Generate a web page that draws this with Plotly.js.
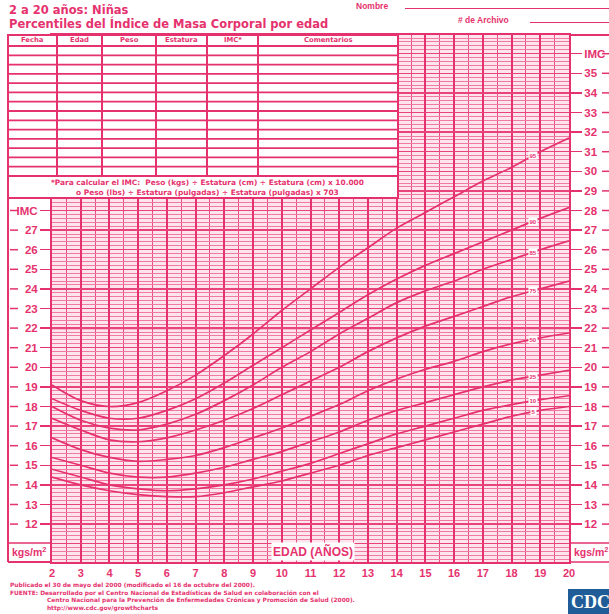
<!DOCTYPE html>
<html><head><meta charset="utf-8">
<script src="https://cdn.plot.ly/plotly-3.0.1.min.js"></script>
<style>html,body{margin:0;padding:0;background:#fff;}#chart{width:609px;height:614px;}</style>
</head><body><div id="chart"></div>
<script>
// ---- data ----
const ages = [2,3,4,5,6,7,8,9,10,11,12,13,14,15,16,17,18,19,20];
const p5  = [14.4,14.0,13.7,13.5,13.4,13.4,13.6,13.9,14.2,14.6,15.0,15.5,15.9,16.3,16.7,17.1,17.5,17.8,18.0];
const p10 = [14.8,14.4,14.0,13.8,13.7,13.8,14.0,14.3,14.7,15.1,15.6,16.1,16.6,17.0,17.4,17.8,18.1,18.35,18.55];
const p25 = [15.4,15.0,14.6,14.4,14.4,14.6,14.9,15.3,15.7,16.2,16.7,17.3,17.8,18.2,18.6,19.0,19.35,19.6,19.85];
const p50 = [16.4,15.8,15.4,15.2,15.3,15.5,15.9,16.4,16.9,17.5,18.1,18.8,19.4,19.9,20.3,20.8,21.2,21.5,21.75];
const p75 = [17.4,16.8,16.3,16.2,16.4,16.8,17.3,17.9,18.6,19.3,20.0,20.8,21.5,22.1,22.6,23.1,23.6,24.0,24.4];
const p85 = [18.0,17.3,16.9,16.8,17.1,17.6,18.3,19.1,20.0,20.8,21.7,22.5,23.3,23.9,24.4,25.0,25.5,26.0,26.45];
const p90 = [18.4,17.8,17.4,17.4,17.8,18.4,19.2,20.1,21.0,21.9,22.8,23.7,24.5,25.2,25.8,26.4,27.0,27.6,28.15];
const p95 = [19.1,18.3,18.0,18.2,18.8,19.6,20.6,21.7,22.9,24.0,25.1,26.1,27.1,27.9,28.7,29.5,30.2,31.0,31.7];
const percentileNames = ['5','10','25','50','75','85','90','95'];
const xTickLabels = ['2','3','4','5','6','7','8','9','10','11','12','13','14','15','16','17','18','19','20'];
const yTicksLeft = [12,13,14,15,16,17,18,19,20,21,22,23,24,25,26,27];
const yTicksRight = [12,13,14,15,16,17,18,19,20,21,22,23,24,25,26,27,28,29,30,31,32,33,34,35];
const axisName = 'IMC';
const unitText = 'kgs/m<sup>2</sup>';
const xTitle = 'EDAD (AÑOS)';
const titleLines = ['2 a 20 años: Niñas','Percentiles del Índice de Masa Corporal por edad'];
const tableHeaders = ['Fecha','Edad','Peso','Estatura','IMC*','Comentarios'];
const footnoteLines = ['*Para calcular el IMC:  Peso (kgs) ÷ Estatura (cm) ÷ Estatura (cm) x 10.000',
                       'o Peso (lbs) ÷ Estatura (pulgadas) ÷ Estatura (pulgadas) x 703'];
const footerLines = ['Publicado el 30 de mayo del 2000 (modificado el 16 de octubre del 2000).',
                     'FUENTE: Desarrollado por el Centro Nacional de Estadísticas de Salud en colaboración con el',
                     'Centro Nacional para la Prevención de Enfermedades Crónicas y Promoción de Salud (2000).',
                     'http://www.cdc.gov/growthcharts'];

// ---- geometry / style ----
const PINK = '#e5326e';
const FONT = 'Liberation Sans, Arial, sans-serif';
const WIDE = 'DejaVu Sans, Verdana, sans-serif';
const L=52, R=569, T=35, B=562;
const PW=R-L, PH=B-T;
const px = x => (x-L)/PW;
const py = y => (B-y)/PH;
const V_BOT = 10.066, V_TOP = 36.954;

const series = [p5,p10,p25,p50,p75,p85,p90,p95];
const traces = series.map(s => ({
  x: ages, y: s, type:'scatter', mode:'lines',
  line:{color:PINK, width:1.7, shape:'spline', smoothing:0.9},
  hoverinfo:'skip', showlegend:false
}));
traces.push({x: yTicksLeft.map(()=>ages[0]), y: yTicksLeft, yaxis:'y2', type:'scatter', mode:'none', showlegend:false, hoverinfo:'skip'});
traces.push({x: yTicksRight.map(()=>ages[0]), y: yTicksRight, yaxis:'y3', type:'scatter', mode:'none', showlegend:false, hoverinfo:'skip'});

function interp(arr, a){
  for(let i=0;i<ages.length-1;i++){
    if(a>=ages[i] && a<=ages[i+1]){
      const t=(a-ages[i])/(ages[i+1]-ages[i]);
      return arr[i]+t*(arr[i+1]-arr[i]);
    }
  }
  return arr[arr.length-1];
}

const shapes = [];
const annotations = [];
function hline(x0,x1,y,w,c){shapes.push({type:'line',xref:'paper',yref:'paper',x0:px(x0),x1:px(x1),y0:py(y),y1:py(y),line:{color:c||PINK,width:w||1.5},layer:'above'});}
function vline(x,y0,y1,w,c){shapes.push({type:'line',xref:'paper',yref:'paper',x0:px(x),x1:px(x),y0:py(y0),y1:py(y1),line:{color:c||PINK,width:w||1.5},layer:'above'});}
function text(x,y,t,size,anchor,fam,extra){annotations.push(Object.assign({xref:'paper',yref:'paper',x:px(x),y:py(y),text:t,showarrow:false,xanchor:anchor||'left',yanchor:'middle',font:{family:fam||FONT,size:size,color:PINK,weight:'bold'}},extra||{}));}

// thick line at 22
shapes.push({type:'line',xref:'paper',yref:'y',x0:0,x1:1,y0:22,y1:22,line:{color:PINK,width:2.4},layer:'below'});

// table
shapes.push({type:'rect',xref:'paper',yref:'paper',x0:px(8),x1:px(398),y0:py(198),y1:py(T),fillcolor:'#fff',line:{color:PINK,width:2},layer:'above'});
const colX=[8,57,102,156,207,258,398];
colX.slice(1,-1).forEach(x=>vline(x,T,176,2));
hline(8,398,46,2);
for(let i=1;i<=14;i++){ hline(8,398,46+i*130/14,1.8); }
tableHeaders.forEach((h,i)=>text((colX[i]+colX[i+1])/2,40.5,h,6.8,'center',WIDE));
text(207,188,footnoteLines.join('<br>'),7.4,'center',WIDE,{align:'center'});

// frames
vline(8,198,B,2);
hline(8,L,B,2); hline(8,L,543,1.5);
hline(R,609,543,1.5); hline(R,609,B,1.5);
hline(R,609,T,2);

// outer tick dashes
yTicksLeft.concat([28]).forEach(v=>shapes.push({type:'line',xref:'paper',yref:'y',x0:px(10),x1:px(18),y0:v,y1:v,line:{color:PINK,width:1.5},layer:'above'}));
yTicksRight.concat([36]).forEach(v=>shapes.push({type:'line',xref:'paper',yref:'y',x0:px(602),x1:px(610),y0:v,y1:v,line:{color:PINK,width:1.5},layer:'above'}));

// percentile labels
const labelAge = 18.75;
series.forEach((s,i)=>annotations.push({xref:'x',yref:'y',x:labelAge,y:interp(s,labelAge),text:percentileNames[i],showarrow:false,
  font:{family:FONT,size:6,color:PINK,weight:'bold'},bgcolor:'#fff',borderpad:0.5,xanchor:'center',yanchor:'middle'}));

// axis title / units
annotations.push({xref:'x',yref:'paper',x:11.1,y:py(551.5),text:xTitle,showarrow:false,bgcolor:'#fff',borderpad:1,
  font:{family:FONT,size:12,color:PINK,weight:'bold'},xanchor:'center',yanchor:'middle'});
text(10,551.5,unitText,10.5,'left');
text(572,551.5,unitText,10.5,'left');

// titles
text(7,10,titleLines[0],11.5,'left',WIDE);
text(7,23,titleLines[1],11.5,'left',WIDE);
text(354,6,'Nombre',8.5,'left');
hline(405,609,8.5,1.2);
text(456,19.5,'# de Archivo',8.5,'left');
hline(530,609,22.5,1.2);

// footer (one block; indented continuation lines)
const indent = '&nbsp;'.repeat(18);
const footerText = footerLines[0] + '<br>' + footerLines[1] + '<br>' + indent + footerLines[2] + '<br>' + indent + footerLines[3];
text(8,613.5,footerText,5.9,'left',WIDE,{align:'left',yanchor:'bottom'});

// logo
shapes.push({type:'rect',xref:'paper',yref:'paper',x0:px(568),x1:px(612),y0:py(614),y1:py(589),fillcolor:'#1f5c98',line:{width:0},layer:'above'});
annotations.push({xref:'paper',yref:'paper',x:px(569),y:py(602),text:'CDC',showarrow:false,xanchor:'left',yanchor:'middle',
  font:{family:'Liberation Serif, serif',size:18,color:'#fff',weight:'bold'}});

const yCommon = {range:[V_BOT,V_TOP], zeroline:false, fixedrange:true};
const tickFont = {family:FONT,size:11.5,color:PINK,weight:'bold'};
const layout = {
  width:609, height:614,
  margin:{l:L, r:609-R, t:T, b:614-B, pad:0},
  paper_bgcolor:'#fff', plot_bgcolor:'#fde4ed',
  showlegend:false,
  xaxis:{range:[2,20], tickmode:'array', tickvals:ages, ticktext:xTickLabels,
    showgrid:true, gridcolor:PINK, gridwidth:2,
    minor:{tickmode:'linear', tick0:0, dtick:0.5, showgrid:true, gridcolor:'#ea4f84', gridwidth:1},
    showline:true, linecolor:PINK, linewidth:2, mirror:true, zeroline:false, ticks:'',
    tickfont:{family:FONT,size:11,color:PINK,weight:'bold'}, fixedrange:true},
  yaxis:Object.assign({}, yCommon, {tickmode:'linear', tick0:0, dtick:1, showgrid:true, gridcolor:'#e8447a', gridwidth:1.5,
    minor:{tickmode:'linear', tick0:0, dtick:0.2, showgrid:true, gridcolor:'#f07aa2', gridwidth:1},
    showticklabels:false, ticks:'', showline:true, linecolor:PINK, linewidth:2, mirror:true}),
  yaxis2:Object.assign({}, yCommon, {overlaying:'y', side:'left', anchor:'x', tickmode:'array',
    tickvals:yTicksLeft.concat([28]), ticktext:yTicksLeft.map(String).concat([axisName]),
    ticks:'outside', ticklen:11, tickwidth:1.5, tickcolor:PINK, showgrid:false, showline:false, tickfont:tickFont}),
  yaxis3:Object.assign({}, yCommon, {overlaying:'y', side:'right', anchor:'x', tickmode:'array',
    tickvals:yTicksRight.concat([36]), ticktext:yTicksRight.map(String).concat([axisName]),
    ticks:'outside', ticklen:12, tickwidth:1.5, tickcolor:PINK, showgrid:false, showline:false, tickfont:tickFont}),
  shapes:shapes, annotations:annotations
};
Plotly.newPlot('chart', traces, layout, {staticPlot:true, displayModeBar:false});
</script></body></html>
